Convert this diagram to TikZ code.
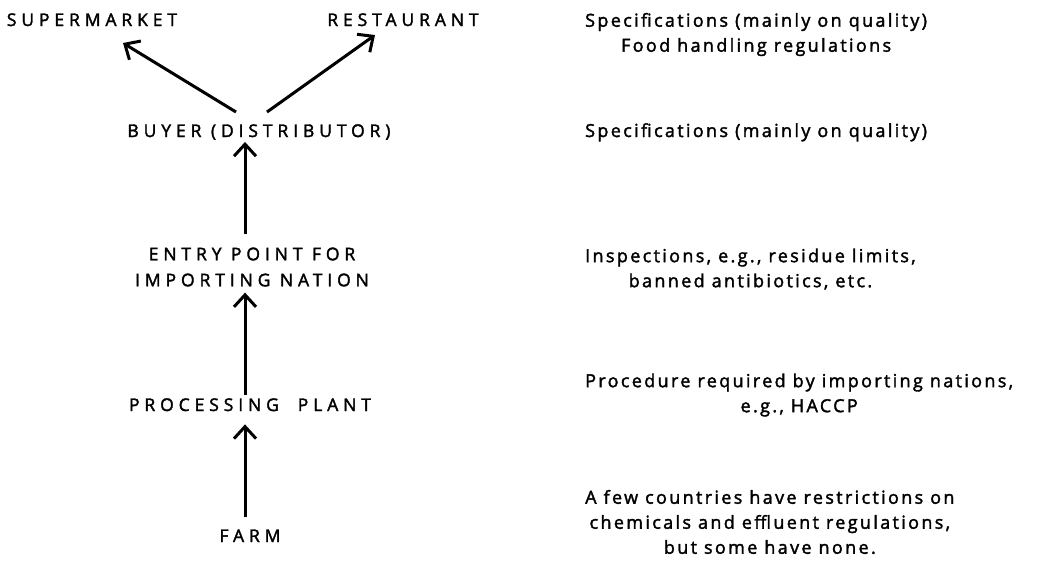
\documentclass[tikz,border=0pt]{standalone}
\usepackage{fontspec}
\setmainfont{Open Sans}
\newfontfamily\stagefont[LetterSpace=28,FakeBold=2]{Open Sans}
\newfontfamily\notefont[LetterSpace=13,FakeBold=2]{Open Sans}
\usetikzlibrary{arrows.meta}

\tikzset{
  stage/.style={font=\stagefont\fontsize{17.5}{26}\selectfont, inner sep=0pt, align=center},
  note/.style={font=\notefont\fontsize{18}{25}\selectfont, inner sep=0pt, align=center},
  flow/.style={line width=3pt, -{Straight Barb[length=12pt,width=22pt]}}
}

\begin{document}
\begin{tikzpicture}[x=1pt,y=-1pt]
  \useasboundingbox (0,0) rectangle (1042,563);
  % chain of stages
  \node[stage, anchor=base] (super) at (92,26) {SUPERMARKET};
  \node[stage, anchor=base] (rest) at (403,26) {RESTAURANT};
  \node[stage, anchor=base] (buyer) at (259,137) {BUYER (DISTRIBUTOR)};
  \node[stage] (entry) at (252,267) {ENTRY POINT FOR\\IMPORTING NATION};
  \node[stage, anchor=base] (plant) at (250,411) {PROCESSING\ \ PLANT};
  \node[stage, anchor=base] (farm) at (250,542) {FARM};
  \coordinate (axis) at (245,0);
  \coordinate (bl) at (236,112);
  \coordinate (br) at (267,112);
  \coordinate (sm) at (123,43);
  \coordinate (rs) at (375,35);
  \draw[flow] (bl) -- (sm);
  \draw[flow] (br) -- (rs);
  \draw[flow, shorten <=13pt, shorten >=2pt] (entry.north -| axis) -- (buyer.south -| axis);
  \draw[flow, shorten <=3pt, shorten >=6pt] (plant.north -| axis) -- (entry.south -| axis);
  \draw[flow, shorten <=12pt, shorten >=13pt] (farm.north -| axis) -- (plant.south -| axis);
  % requirements at each stage
  \node[note, anchor=west] (rq1) at (585,34.5) {Specifications (mainly on quality)\\Food handling regulations};
  \node[note, anchor=base west] (rq2) at (585,137) {Specifications (mainly on quality)};
  \node[note, anchor=west] (rq3) at (585,269) {Inspections, e.g., residue limits,\\banned antibiotics, etc.};
  \node[note, anchor=west] (rq4) at (585,395) {Procedure required by importing nations,\\e.g., HACCP};
  \node[note, anchor=west] (rq5) at (585,522) {A few countries have restrictions on\\chemicals and effluent regulations,\\but some have none.};
\end{tikzpicture}
\end{document}
